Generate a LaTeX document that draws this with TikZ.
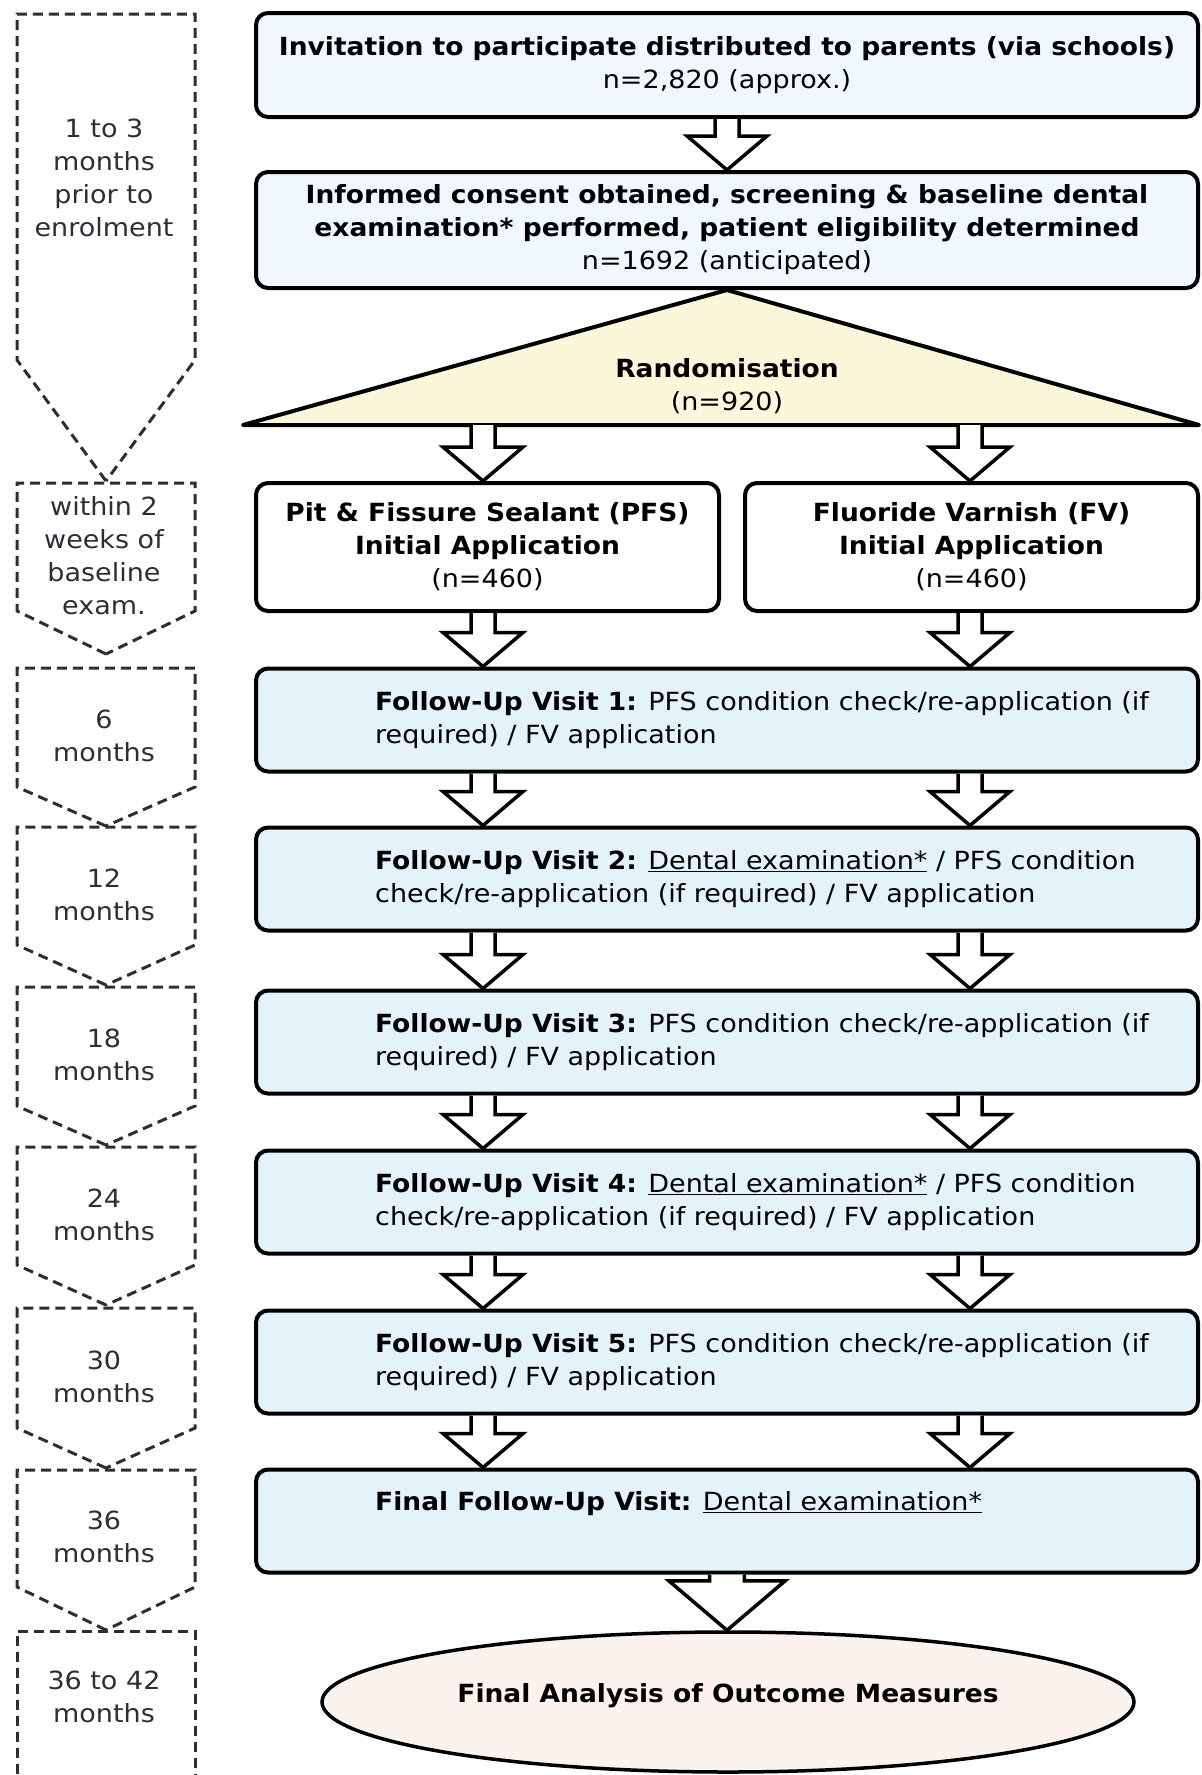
\documentclass[tikz,border=0pt]{standalone}
\usepackage{fontspec}
\setmainfont{DejaVu Sans}[FakeStretch=1.08, BoldFeatures={FakeStretch=1.06}]
\usetikzlibrary{shapes.geometric,calc}
\definecolor{headblue}{RGB}{241,248,252}
\definecolor{visitblue}{RGB}{228,243,250}
\definecolor{randyellow}{RGB}{250,247,218}
\definecolor{outcomepink}{RGB}{252,242,238}
\definecolor{dashgray}{RGB}{45,45,55}
\newcommand{\flowfont}{\fontsize{25}{33}\selectfont}
\tikzset{
  box/.style={draw, line width=4pt, rounded corners=12pt, align=center, inner sep=0pt, font=\flowfont},
  visit/.style={box, fill=visitblue, minimum width=942pt, minimum height=103pt},
  txt/.style={font=\flowfont, align=center, inner sep=0pt},
  hollow/.style={draw, line width=3.5pt, fill=white, line join=miter},
  timeframe/.style={draw=dashgray, line width=3pt, dash pattern=on 10pt off 6pt},
}
\newcommand{\hollowarrow}[3][1]{%
  \draw[hollow] let \p1=(#2), \p2=(#3) in
    (\x1-#1*12pt,\y1) -- (\x1-#1*12pt,\y2+#1*34pt) -- (\x1-#1*40pt,\y2+#1*34pt) -- (\x1,\y2)
    -- (\x1+#1*40pt,\y2+#1*34pt) -- (\x1+#1*12pt,\y2+#1*34pt) -- (\x1+#1*12pt,\y1);}
\begin{document}
\begin{tikzpicture}[x=1pt, y=-1pt]
  \useasboundingbox (0,0) rectangle (1202,1775);
  \foreach \ytop/\yside/\ytip/\ylbl/\lbl [count=\k] in {14/360/481/178/{1 to 3\\months\\prior to\\enrolment},
      483/611/654/556/{within 2\\weeks of\\baseline\\exam.}, 668/787/826/736/{6\\months},
      827/945/985/895/{12\\months}, 987/1106/1145/1055/{18\\months}, 1147/1265/1305/1215/{24\\months},
      1308/1428/1468/1377/{30\\months}, 1470/1587/1630/1537/{36\\months}} {
    \draw[timeframe] (106,\ytip) -- (17,\yside) -- (17,\ytop) -- (195,\ytop) -- (195,\yside) -- cycle;
    \node[txt, text=dashgray] (when\k) at (104,\ylbl) {\lbl};
  }
  \draw[timeframe] (17,1790) -- (17,1631) -- (195,1631) -- (195,1790);
  \node[txt, text=dashgray] (when9) at (104,1697) {36 to 42\\months};

  \node[box, fill=headblue, minimum width=942pt, minimum height=104pt] (invite) at (727,65)
    {\textbf{Invitation to participate distributed to parents (via schools)}\\n=2,820 (approx.)};
  \node[box, fill=headblue, minimum width=942pt, minimum height=116pt] (consent) at (727,230)
    {\textbf{Informed consent obtained, screening \& baseline dental}\\
     \textbf{examination* performed, patient eligibility determined}\\n=1692 (anticipated)};
  \coordinate (baseL) at (243,425);
  \coordinate (baseR) at (1199,425);
  \draw[line width=4pt, fill=randyellow, line join=round] (consent.south) -- (baseR) -- (baseL) -- cycle;
  \node[txt] (rand) at (727,386) {\textbf{Randomisation}\\(n=920)};
  \node[box, fill=white, minimum width=463pt, minimum height=128pt] (pfs) at (487.5,547)
    {\textbf{Pit \& Fissure Sealant (PFS)}\\\textbf{Initial Application}\\(n=460)};
  \node[box, fill=white, minimum width=453pt, minimum height=128pt] (fv) at (971.5,547)
    {\textbf{Fluoride Varnish (FV)}\\\textbf{Initial Application}\\(n=460)};

  \foreach \i/\y in {1/720, 2/879, 3/1042, 4/1202, 5/1362, 6/1521}
    \node[visit] (v\i) at (727,\y) {};
  \foreach \i in {1,3,5}
    \node[txt, align=left, anchor=west] (v\i txt) at ([xshift=121pt]v\i.west)
      {\textbf{Follow-Up Visit \i:} PFS condition check/re-application (if\\required) / FV application};
  \foreach \i in {2,4}
    \node[txt, align=left, anchor=west] (v\i txt) at ([xshift=121pt]v\i.west)
      {\textbf{Follow-Up Visit \i:} \underline{Dental examination*} / PFS condition\\check/re-application (if required) / FV application};
  \node[txt, align=left, anchor=west] (v6txt) at ([xshift=121pt, yshift=17pt]v6.west)
    {\textbf{Final Follow-Up Visit:} \underline{Dental examination*}};
  \node[draw, ellipse, line width=3.5pt, fill=outcomepink, minimum width=812pt, minimum height=140pt,
    font=\flowfont] (analysis) at (728,1702) {\raisebox{18pt}{\textbf{Final Analysis of Outcome Measures}}};

  \coordinate (L) at (483,0);
  \coordinate (R) at (970,0);
  \hollowarrow{invite.south}{consent.north}
  \hollowarrow{baseL -| L}{pfs.north -| L}
  \hollowarrow{baseL -| R}{fv.north -| R}
  \hollowarrow{pfs.south -| L}{v1.north -| L}
  \hollowarrow{fv.south -| R}{v1.north -| R}
  \foreach \i [count=\j from 2] in {1,...,5} {
    \hollowarrow{v\i.south -| L}{v\j.north -| L}
    \hollowarrow{v\i.south -| R}{v\j.north -| R}
  }
  \hollowarrow[1.45]{v6.south}{analysis.north}
\end{tikzpicture}
\end{document}
